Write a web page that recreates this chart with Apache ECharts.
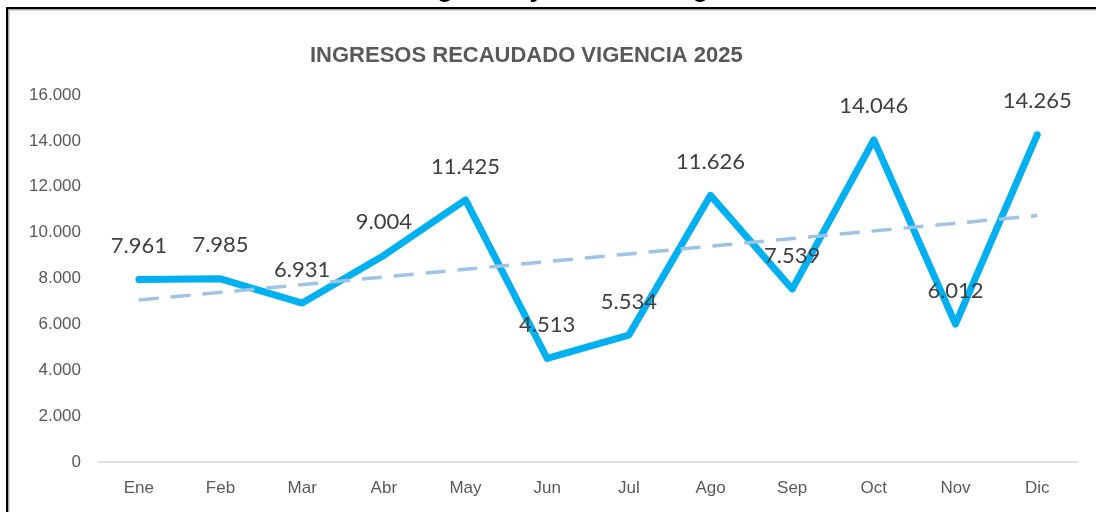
<!DOCTYPE html>
<html>
<head>
<meta charset="utf-8">
<script src="https://cdn.jsdelivr.net/npm/echarts@6/dist/echarts.min.js"></script>
<style>
  html, body { margin: 0; padding: 0; background: #fff; }
  #chart { width: 1096px; height: 512px; }
</style>
</head>
<body>
<div id="chart"></div>
<script>
// Monthly collected income, 2025
const months = ['Ene', 'Feb', 'Mar', 'Abr', 'May', 'Jun', 'Jul', 'Ago', 'Sep', 'Oct', 'Nov', 'Dic'];
const recaudo = [7961, 7985, 6931, 9004, 11425, 4513, 5534, 11626, 7539, 14046, 6012, 14265];
// Linear trend line: values at the first and last month
const trendEnds = [7063, 10744];
const chartTitle = 'INGRESOS RECAUDADO VIGENCIA 2025';
const headerText = 'Ingresos y Recaudo Vigencia 2025';

function fmtMiles(v) {
  return String(Math.round(v)).replace(/\B(?=(\d{3})+(?!\d))/g, '.');
}

const chart = echarts.init(document.getElementById('chart'), null, { renderer: 'canvas' });

chart.setOption({
  backgroundColor: '#ffffff',
  animation: false,
  title: {
    text: chartTitle,
    left: 305,
    top: 40,
    textStyle: {
      fontFamily: '"Liberation Sans", Arial, sans-serif',
      fontWeight: 'bold',
      fontSize: 22,
      color: '#595959'
    }
  },
  grid: { left: 98, right: 18, top: 95, bottom: 50 },
  xAxis: {
    type: 'category',
    data: months,
    boundaryGap: true,
    axisLine: { lineStyle: { color: '#d9d9d9', width: 1.5 } },
    axisTick: { show: false },
    axisLabel: {
      margin: 18,
      color: '#595959',
      fontSize: 17,
      fontFamily: '"Liberation Sans", Arial, sans-serif'
    },
    splitLine: { show: false }
  },
  yAxis: {
    type: 'value',
    min: 0,
    max: 16000,
    interval: 2000,
    axisLine: { show: false },
    axisTick: { show: false },
    splitLine: { show: false },
    axisLabel: {
      margin: 17,
      color: '#595959',
      fontSize: 17,
      fontFamily: '"Liberation Sans", Arial, sans-serif',
      formatter: fmtMiles
    }
  },
  series: [
    {
      name: 'Recaudo',
      type: 'line',
      data: recaudo,
      symbol: 'circle',
      symbolSize: 1,
      itemStyle: { color: '#00B0F0' },
      lineStyle: { color: '#00B0F0', width: 7, cap: 'round', join: 'round' },
      label: {
        show: true,
        position: 'top',
        distance: 22,
        color: '#404040',
        fontSize: 22,
        fontFamily: 'Lato, "Open Sans", sans-serif',
        formatter: p => fmtMiles(p.value)
      },
      z: 2
    },
    {
      name: 'Tendencia',
      type: 'line',
      data: [[0, trendEnds[0]], [months.length - 1, trendEnds[1]]],
      symbol: 'none',
      lineStyle: { color: '#9DC3E6', width: 3.5, type: [20, 12] },
      silent: true,
      z: 3
    }
  ],
  graphic: [
    {
      type: 'text',
      left: 414,
      top: -23,
      style: {
        text: headerText,
        font: 'bold 26px "Liberation Sans", Arial, sans-serif',
        fill: '#000000'
      },
      z: 1
    },
    { type: 'rect', shape: { x: 6, y: 7, width: 1090, height: 2.5 }, style: { fill: '#000' }, z: 5 },
    { type: 'rect', shape: { x: 6, y: 7, width: 2.5, height: 505 }, style: { fill: '#000' }, z: 5 },
    { type: 'rect', shape: { x: 8.5, y: 9.5, width: 1088, height: 1.5 }, style: { fill: '#d6d6d6' }, z: 5 },
    { type: 'rect', shape: { x: 8.5, y: 9.5, width: 1.5, height: 503 }, style: { fill: '#d6d6d6' }, z: 5 }
  ]
});
</script>
</body>
</html>
